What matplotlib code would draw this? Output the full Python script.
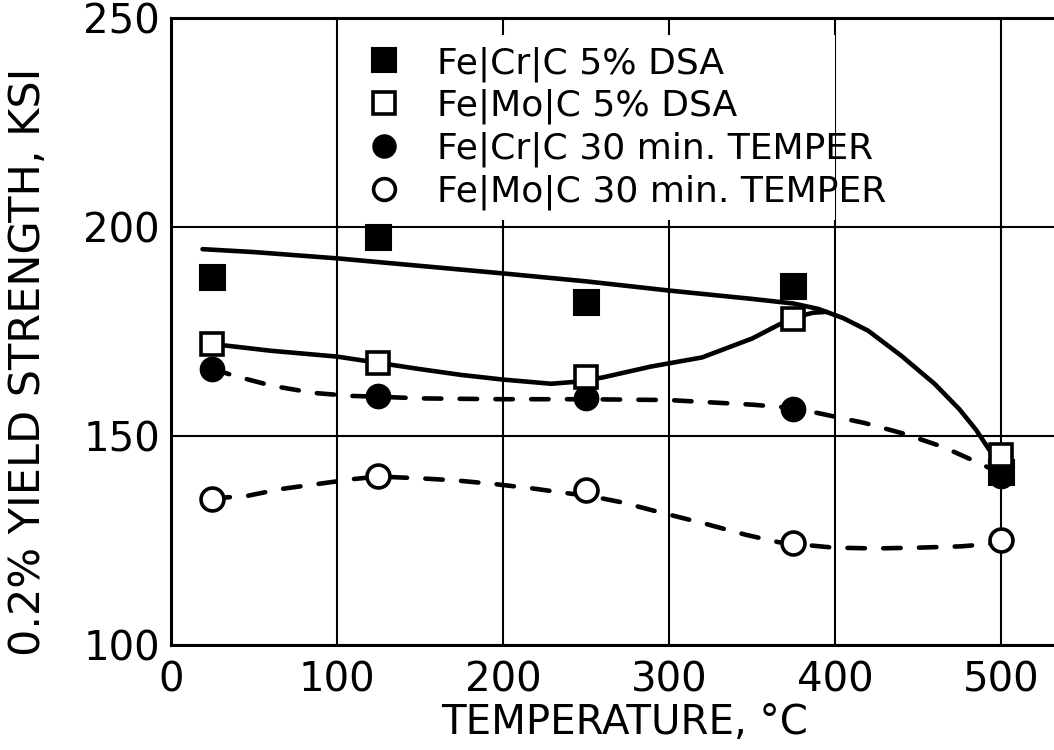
import matplotlib
matplotlib.use('Agg')
import matplotlib.pyplot as plt
from matplotlib.patches import Rectangle

# measured points
temps = [25, 125, 250, 375, 500]
cr_dsa = [188, 197.5, 182, 186, 141.5]
mo_dsa = [172, 167.5, 164, 178, 145.5]
cr_temper = [166, 159.5, 159, 156.5, 140.5]
mo_temper = [135, 140.5, 137, 124.5, 125]

labels = ['Fe|Cr|C 5% DSA', 'Fe|Mo|C 5% DSA',
          'Fe|Cr|C 30 min. TEMPER', 'Fe|Mo|C 30 min. TEMPER']

# hand drawn curves
cr_dsa_cx = [19, 50, 100, 150, 200, 250, 300, 350, 375, 390, 405, 420, 440, 460, 475, 485, 495, 500]
cr_dsa_cy = [194.7, 194.0, 192.5, 190.7, 188.9, 187.0, 184.8, 182.8, 181.7, 180.4, 178.2, 175.2,
             169.2, 162.5, 156.4, 151.5, 145.5, 142.5]

mo_dsa_cx = [25, 60, 100, 125, 150, 175, 200, 229, 245, 260, 289, 320, 350, 370, 378, 387, 395]
mo_dsa_cy = [172.0, 170.4, 169.0, 167.5, 166.0, 164.6, 163.5, 162.5, 163.0, 164.0, 166.6, 168.8,
             173.3, 177.4, 178.6, 179.5, 179.7]

cr_tmp_cx = [25, 40, 61, 86, 108, 125, 150, 200, 250, 300, 350, 375, 392, 418, 442, 465, 487, 500]
cr_tmp_cy = [166.0, 164.2, 162.0, 160.3, 159.6, 159.4, 159.0, 158.8, 158.8, 158.6, 157.5, 156.7,
             155.3, 153.1, 150.5, 147.4, 143.5, 141.0]

mo_tmp_cx = [25, 45, 66, 88, 110, 125, 149, 171, 195, 217, 237, 253, 272, 295, 321, 346, 366, 375,
             399, 424, 451, 476, 494, 500]
mo_tmp_cy = [135.1, 135.6, 137.3, 138.5, 139.7, 140.3, 139.9, 139.4, 138.5, 137.5, 136.4, 135.6,
             134.1, 131.7, 129.1, 126.4, 124.6, 124.2, 123.3, 123.1, 123.3, 123.6, 124.2, 124.8]

fig = plt.figure(figsize=(10.54, 7.5), dpi=100)
ax = fig.add_axes([171 / 1054, 0.14, 1 - 171 / 1054, 0.976 - 0.14])

ax.set_xlim(0, 532)
ax.set_ylim(100, 250)
ax.set_xticks([0, 100, 200, 300, 400, 500])
ax.set_yticks([100, 150, 200, 250])
ax.set_axisbelow(True)
ax.grid(True, color='black', lw=1.5)
ax.tick_params(length=0, labelsize=29)
ax.tick_params(axis='x', pad=11)
ax.tick_params(axis='y', pad=8)
for s in ['left', 'bottom', 'top']:
    ax.spines[s].set_linewidth(2.2)
ax.spines['right'].set_visible(False)

# white box behind the legend
ax.add_patch(Rectangle((0.191, 0.678), 0.561, 0.295, transform=ax.transAxes,
                       facecolor='white', edgecolor='none', zorder=1))

lw = 3.3
ax.plot(cr_dsa_cx, cr_dsa_cy, color='black', lw=lw, solid_capstyle='round',
        solid_joinstyle='round', zorder=2)
ax.plot(mo_dsa_cx, mo_dsa_cy, color='black', lw=lw, solid_capstyle='round',
        solid_joinstyle='round', zorder=2)
ax.plot(cr_tmp_cx, cr_tmp_cy, color='black', lw=lw, dashes=(3.8, 4.0), dash_capstyle='round', zorder=2)
ax.plot(mo_tmp_cx, mo_tmp_cy, color='black', lw=lw, dashes=(3.8, 4.0), dash_capstyle='round', zorder=2)

h1, = ax.plot(temps, cr_dsa, 's', ms=18, mfc='black', mec='black', mew=1.5, ls='none', zorder=4)
h2, = ax.plot(temps, mo_dsa, 's', ms=16.5, mfc='white', mec='black', mew=2.6, ls='none', zorder=5)
h3, = ax.plot(temps, cr_temper, 'o', ms=17.5, mfc='black', mec='black', mew=1, ls='none', zorder=3)
h4, = ax.plot(temps, mo_temper, 'o', ms=16.5, mfc='white', mec='black', mew=2.6, ls='none', zorder=4)

leg = ax.legend([h1, h2, h3, h4], labels, loc='upper left',
                bbox_to_anchor=(366 / 1054, 1 - 46 / 750), bbox_transform=fig.transFigure,
                frameon=False, fontsize=26, handlelength=1.0, handletextpad=0.97,
                labelspacing=0.2, borderpad=0, borderaxespad=0, markerscale=0.95)
leg.set_zorder(6)

ax.set_xlabel('TEMPERATURE, °C', fontsize=29)
ax.xaxis.set_label_coords(0.514, -0.125)
ax.xaxis.label.set_va('center')
ax.set_ylabel('0.2% YIELD STRENGTH, KSI', fontsize=31)
ax.yaxis.set_label_coords(-0.162, 0.451)
ax.yaxis.label.set_va('center')

fig.savefig('out.png', dpi=100)
